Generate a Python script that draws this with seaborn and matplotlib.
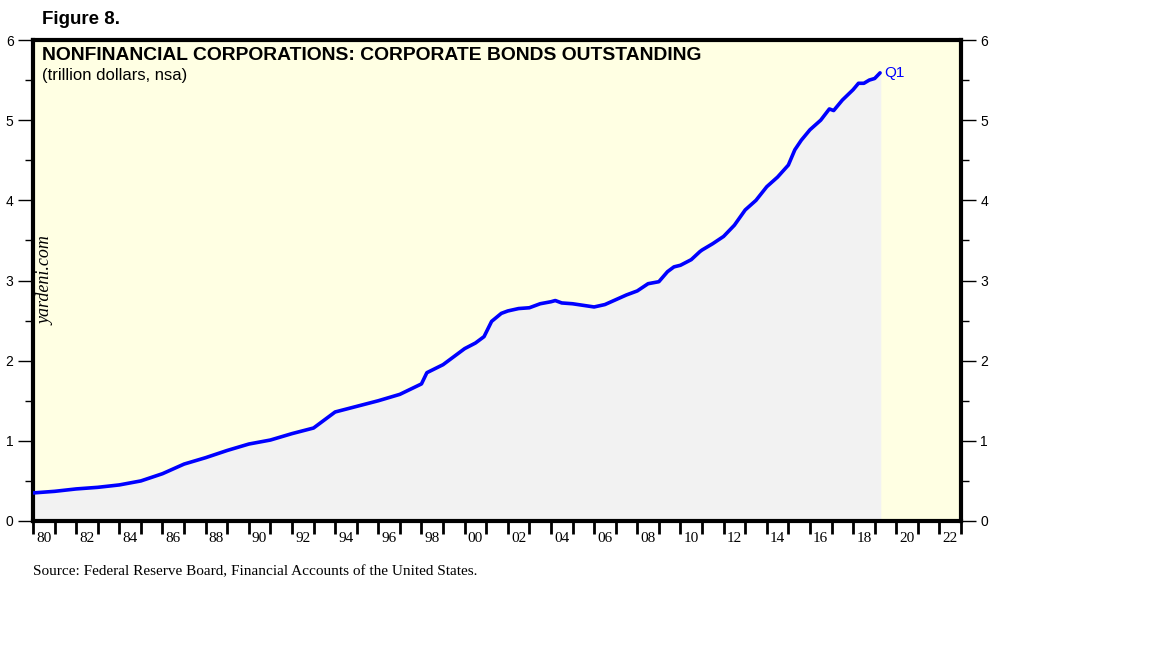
import numpy as np
import pandas as pd
import seaborn as sns
import matplotlib.pyplot as plt
from matplotlib.ticker import MultipleLocator

# corporate bonds outstanding, trillion dollars
dates = [1980.0, 1981.0, 1982.0, 1983.0, 1984.0, 1985.0, 1986.0, 1987.0,
         1988.0, 1989.0, 1990.0, 1991.0, 1992.0, 1993.0, 1994.0, 1995.0,
         1996.0, 1997.0, 1998.0, 1998.25, 1999.0, 2000.0, 2000.5, 2000.9,
         2001.25, 2001.7, 2002.0, 2002.5, 2003.0, 2003.5, 2004.0, 2004.2,
         2004.5, 2005.0, 2005.5, 2006.0, 2006.5, 2007.0, 2007.5, 2008.0,
         2008.5, 2009.0, 2009.4, 2009.7, 2010.0, 2010.5, 2010.9, 2011.0,
         2011.5, 2012.0, 2012.5, 2013.0, 2013.5, 2014.0, 2014.5, 2015.0,
         2015.3, 2015.6, 2016.0, 2016.5, 2016.9, 2017.1, 2017.5, 2018.0,
         2018.25, 2018.5, 2018.75, 2019.0, 2019.25]
bonds = [0.35, 0.37, 0.40, 0.42, 0.45, 0.50, 0.59, 0.71,
         0.79, 0.88, 0.96, 1.01, 1.09, 1.16, 1.36, 1.43,
         1.50, 1.58, 1.71, 1.85, 1.95, 2.15, 2.22, 2.30,
         2.49, 2.59, 2.62, 2.65, 2.66, 2.71, 2.735, 2.75,
         2.72, 2.71, 2.69, 2.67, 2.70, 2.76, 2.82, 2.87,
         2.96, 2.985, 3.11, 3.17, 3.19, 3.26, 3.36, 3.38,
         3.46, 3.55, 3.69, 3.88, 4.00, 4.17, 4.29, 4.44,
         4.63, 4.75, 4.88, 5.00, 5.14, 5.12, 5.25, 5.38,
         5.46, 5.46, 5.50, 5.52, 5.59]

year_ticks = list(range(1980, 2024))
label_years = list(range(1980, 2023, 2))
year_labels = [f"{y % 100:02d}" for y in label_years]

df = pd.DataFrame({"date": dates, "bonds": bonds})

sns.set_style("white", {"text.color": "black", "xtick.color": "black",
                        "ytick.color": "black", "axes.labelcolor": "black"})
plt.rcParams["font.family"] = ["Liberation Sans", "DejaVu Sans"]

fig = plt.figure(figsize=(11.52, 6.48), dpi=100)
ax = fig.add_axes([33 / 1152, 1 - 521 / 648, 928 / 1152, 481 / 648])
ax.set_facecolor("#ffffe3")

ax.fill_between(df["date"], df["bonds"], 0, color="#f2f2f2", zorder=1)
sns.lineplot(data=df, x="date", y="bonds", ax=ax, color="#0000ff",
             linewidth=2.6, zorder=3)

ax.set_xlim(1980, 2023)
ax.set_ylim(0, 6)
ax.set_xlabel("")
ax.set_ylabel("")

for sp in ax.spines.values():
    sp.set_visible(True)
    sp.set_linewidth(3)
    sp.set_color("black")

# y axis ticks both sides
ax.yaxis.set_major_locator(MultipleLocator(1))
ax.yaxis.set_minor_locator(MultipleLocator(0.5))
ax.tick_params(axis="y", which="major", direction="out", length=11, width=1,
               left=True, right=True, labelleft=True, labelright=True,
               labelsize=10, pad=3)
ax.tick_params(axis="y", which="minor", direction="out", length=6, width=1,
               left=True, right=True)

# x axis: tick at each year, labels centred within even years
ax.set_xticks(year_ticks)
ax.set_xticklabels([])
ax.set_xticks([y + 0.5 for y in label_years], minor=True)
ax.set_xticklabels(year_labels, minor=True, family=["Liberation Serif"],
                   fontsize=11)
ax.tick_params(axis="x", which="major", direction="out", length=9, width=2,
               bottom=True)
ax.tick_params(axis="x", which="minor", length=0, pad=8)

ax.text(0.0097, 0.985, "NONFINANCIAL CORPORATIONS: CORPORATE BONDS OUTSTANDING",
        transform=ax.transAxes, fontsize=13.9, fontweight="bold", va="top", ha="left")
ax.text(0.0097, 0.942, "(trillion dollars, nsa)", transform=ax.transAxes,
        fontsize=12, va="top", ha="left")
ax.text(df["date"].iloc[-1] + 0.2, df["bonds"].iloc[-1], "Q1", color="#0000ff",
        fontsize=11, va="center", ha="left")
ax.text(0.014, 0.5, "yardeni.com", transform=ax.transAxes, rotation=90,
        fontsize=13, style="italic", family=["Liberation Serif"],
        va="center", ha="center")

fig.text(42 / 1152, 1 - 20 / 648, "Figure 8.", fontsize=13.5, fontweight="bold",
         va="center", ha="left")
fig.text(33 / 1152, 1 - 572 / 648, "Source: Federal Reserve Board, Financial Accounts of the United States.",
         fontsize=11, family=["Liberation Serif"], va="center", ha="left")

fig.savefig("out.png", dpi=100, facecolor="white")
